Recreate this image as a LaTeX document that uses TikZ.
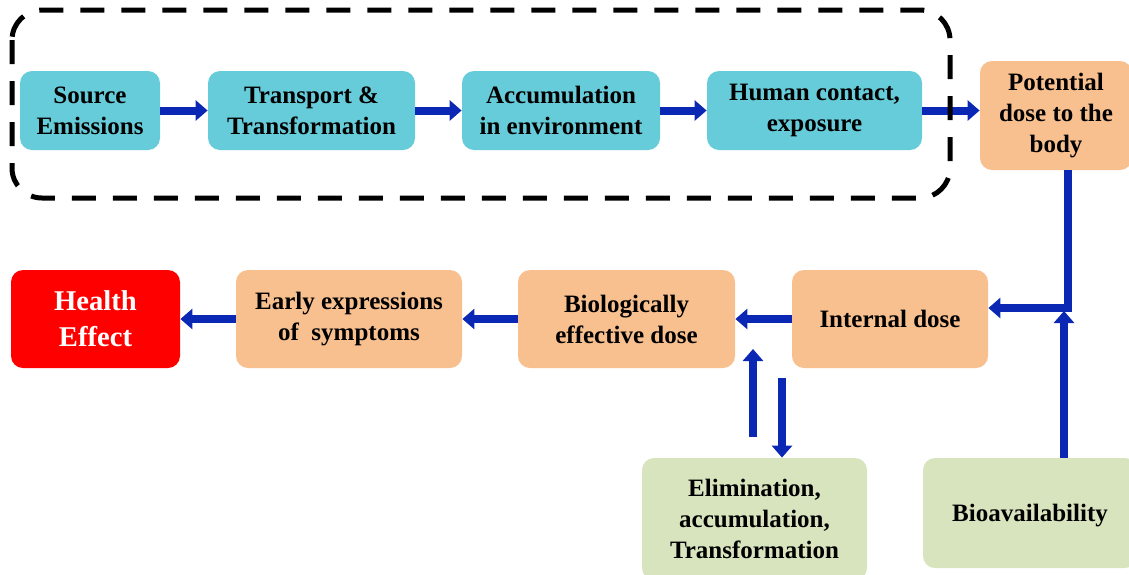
\documentclass[tikz,border=0pt]{standalone}
\usepackage{fontspec}
\setmainfont{Liberation Serif}
\usetikzlibrary{arrows.meta}
\definecolor{boxcyan}{RGB}{102,204,218}
\definecolor{boxorange}{RGB}{248,191,143}
\definecolor{boxgreen}{RGB}{216,228,190}
\definecolor{arrowblue}{RGB}{10,40,180}

\begin{document}
\begin{tikzpicture}[x=0.5pt,y=-0.5pt,
    box/.style={rounded corners=6pt,align=center,inner sep=0pt,
        font=\bfseries\fontsize{12.5}{15.5}\selectfont},
    cyanbox/.style={box,fill=boxcyan,minimum height=39.5pt},
    orangebox/.style={box,fill=boxorange},
    greenbox/.style={box,fill=boxgreen},
    flow/.style={line width=4pt,color=arrowblue,-{Triangle[length=6pt,width=10pt]}}]
    \useasboundingbox (0,0) rectangle (1129,574);
    \node[cyanbox,minimum width=70pt] (src) at (90,110.5) {Source\\Emissions};
    \node[cyanbox,minimum width=103.5pt] (trans) at (311.5,110.5) {Transport \&\\Transformation};
    \node[cyanbox,minimum width=99pt] (accum) at (561,110.5) {Accumulation\\in environment};
    \node[cyanbox,minimum width=107.5pt] (human) at (814.5,110.5) {Human contact,\\exposure};
    \node[orangebox,minimum width=76pt,minimum height=54.5pt] (pot) at (1056,115.5) {Potential\\dose to the\\body};
    \node[box,fill=red,text=white,minimum width=84.5pt,minimum height=49pt,
        font=\bfseries\fontsize{14.3}{18}\selectfont] (health) at (95.5,319) {Health\\Effect};
    \node[orangebox,minimum width=113pt,minimum height=49pt] (early) at (349,319) {Early expressions\\of \ symptoms};
    \node[orangebox,minimum width=108.5pt,minimum height=49pt] (bio) at (626.5,319) {Biologically\\effective dose};
    \node[orangebox,minimum width=98pt,minimum height=49pt,text depth=0pt] (internal) at (890,319) {Internal dose};
    \node[greenbox,minimum width=112.5pt,minimum height=61pt] (elim) at (754.5,519) {Elimination,\\accumulation,\\Transformation};
    \node[greenbox,minimum width=107pt,minimum height=55pt,text depth=0pt] (bioav) at (1030,513) {Bioavailability};
    \coordinate (bend) at (1068,308);
    \coordinate (avail) at (1064,311);
    \coordinate (elimup) at (753,437);
    \coordinate (bioup) at (753,349);
    \coordinate (biodown) at (782,378);
    \foreach \a/\b in {src/trans,trans/accum,accum/human}
        \draw[flow] (\a.east) -- (\b.west);
    \draw[flow] (human.east) -- (human.east -| pot.west);
    \draw[flow] (bend |- pot.south) -- (bend) -- (bend -| internal.east);
    \draw[flow] (avail |- bioav.north) -- (avail);
    \foreach \a/\b in {internal/bio,bio/early,early/health}
        \draw[flow] (\a.west) -- (\b.east);
    \draw[flow] (elimup) -- (bioup);
    \draw[flow] (biodown) -- (biodown |- elim.north);
    \draw[line width=2.5pt,dash pattern=on 12pt off 8.5pt,rounded corners=15pt] (12,10) rectangle (950,198);
\end{tikzpicture}
\end{document}
